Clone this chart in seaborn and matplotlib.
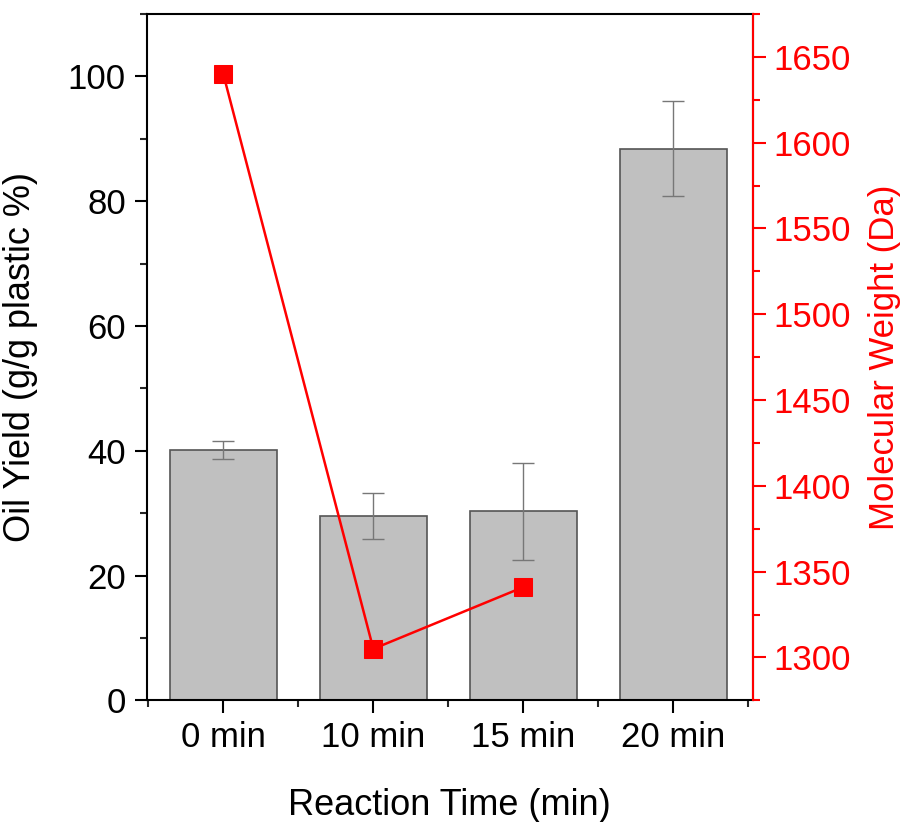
import matplotlib
matplotlib.use("Agg")
import matplotlib.pyplot as plt
import seaborn as sns
import pandas as pd
from matplotlib.ticker import MultipleLocator, FixedLocator

categories = ["0 min", "10 min", "15 min", "20 min"]
oil_yield = [40.1, 29.6, 30.3, 88.4]
oil_err = [1.5, 3.7, 7.8, 7.6]
mw_categories = ["0 min", "10 min", "15 min"]
mol_weight = [1640, 1305, 1341]

sns.set_style("ticks")
plt.rcParams['font.family'] = ['Liberation Sans', 'DejaVu Sans']

fig = plt.figure(figsize=(9.06, 8.22), dpi=100)
ax = fig.add_axes([0.162, 0.148, 0.669, 0.835])

df = pd.DataFrame({"t": categories, "y": oil_yield})
sns.barplot(data=df, x="t", y="y", ax=ax, color="#c0c0c0", width=0.71,
            edgecolor="#555555", linewidth=1.2, errorbar=None, saturation=1)
ax.errorbar(range(len(categories)), oil_yield, yerr=oil_err, fmt="none",
            ecolor="#777777", elinewidth=1, capsize=8, capthick=1)

ax.set_xlim(-0.51, 3.53)
ax.set_ylim(0, 110)
ax.yaxis.set_major_locator(MultipleLocator(20))
ax.yaxis.set_minor_locator(MultipleLocator(10))
ax.xaxis.set_minor_locator(FixedLocator([-0.5, 0.5, 1.5, 2.5, 3.5]))
ax.tick_params(axis="both", which="major", direction="out", length=9, width=1.5,
               labelsize=25, colors="black", pad=6)
ax.tick_params(axis="both", which="minor", direction="out", length=5, width=1.5)
ax.set_xlabel("Reaction Time (min)", fontsize=26, color="black")
ax.set_ylabel("Oil Yield (g/g plastic %)", fontsize=26, color="black")
ax.xaxis.set_label_coords(0.5, -0.128)
ax.yaxis.set_label_coords(-0.18, 0.5)
for s in ["left", "bottom", "top", "right"]:
    ax.spines[s].set_visible(True)
    ax.spines[s].set_linewidth(1.5)
    ax.spines[s].set_color("black")

ax2 = ax.twinx()
dfl = pd.DataFrame({"t": [categories.index(c) for c in mw_categories], "mw": mol_weight})
sns.lineplot(data=dfl, x="t", y="mw", ax=ax2, color="red", marker="s",
             markersize=13, markeredgecolor="red", linewidth=1.8)
ax2.set_ylim(1275, 1675)
ax2.set_xlim(-0.51, 3.53)
ax2.yaxis.set_major_locator(MultipleLocator(50))
ax2.yaxis.set_minor_locator(MultipleLocator(25))
ax2.tick_params(axis="y", which="major", direction="out", length=9, width=1.5,
                labelsize=25, colors="red", pad=6)
ax2.tick_params(axis="y", which="minor", direction="out", length=5, width=1.5, colors="red")
ax2.set_ylabel("Molecular Weight (Da)", fontsize=25, color="red")
ax2.yaxis.set_label_coords(1.19, 0.5)
ax2.set_xlabel("")
ax2.spines["right"].set_color("red")
ax2.spines["right"].set_linewidth(1.5)
ax2.spines["top"].set_visible(False)
ax2.spines["left"].set_visible(False)
ax2.spines["bottom"].set_visible(False)

fig.savefig("out.png", dpi=100)
